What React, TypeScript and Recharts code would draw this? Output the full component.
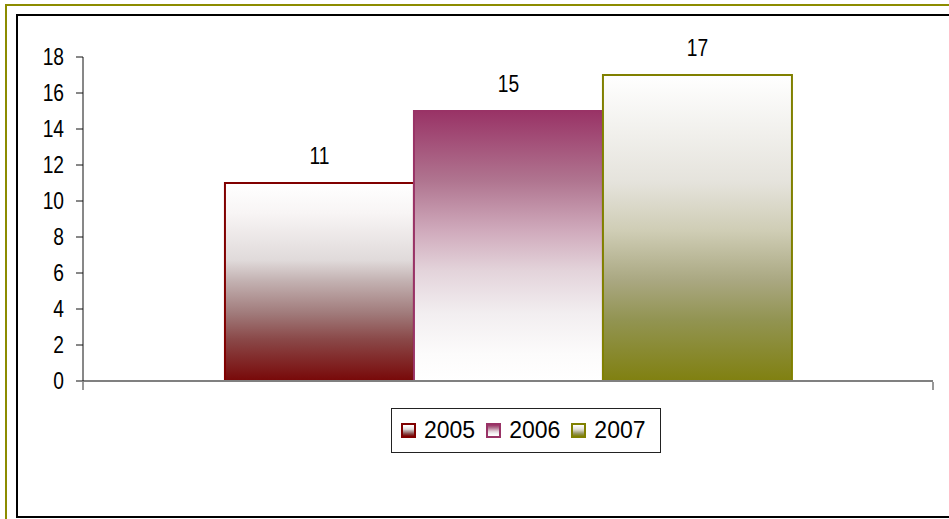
import { Bar, BarChart, LabelList, XAxis, YAxis } from 'recharts';

const YEARS = ['2005', '2006', '2007'];
const VALUES = [11, 15, 17];
const COLORS = ['#800000', '#993366', '#808000'];
const Y_TICKS = [0, 2, 4, 6, 8, 10, 12, 14, 16, 18];

// gradient stops, top (0) to bottom (1)
const STOPS: [number, string][][] = [
  [[0, '#ffffff'], [0.15, '#f8f5f5'], [0.39, '#e0dada'], [0.49, '#c4b3b3'], [0.66, '#a07a7a'], [0.79, '#8a4848'], [1, '#780808']],
  [[0, '#993366'], [0.26, '#b07590'], [0.44, '#cfa9bb'], [0.59, '#e3d3da'], [0.75, '#f2eef0'], [0.9, '#fcfbfb'], [1, '#ffffff']],
  [[0, '#ffffff'], [0.35, '#e5e3dc'], [0.51, '#cfcdb5'], [0.67, '#aaa882'], [0.8, '#929452'], [1, '#808010']]
];

const DATA = [
  YEARS.reduce((row: Record<string, number | string>, y, i) => {
    row[y] = VALUES[i];
    return row;
  }, { name: '', edge: 0 })
];

const FONT = "'Liberation Sans', Arial, sans-serif";

// narrow digits, like Arial Narrow
function NarrowText({ x, y, anchor, children }: { x: number; y: number; anchor: 'end' | 'middle'; children: any }) {
  return (
    <g transform={`translate(${x},${y}) scale(0.8,1)`}>
      <text x={0} y={0} textAnchor={anchor} fill="#000" fontSize={24} fontFamily={FONT}>{children}</text>
    </g>
  );
}

const YTick = (props: any) => {
  const { x, y, payload } = props;
  return <NarrowText x={x} y={y + 8} anchor="end">{payload.value}</NarrowText>;
};

const BarLabel = (props: any) => {
  const { x, y, width, value } = props;
  return <NarrowText x={x + width / 2} y={y - 19} anchor="middle">{value}</NarrowText>;
};

const EmptyTick = () => <g />;

export default function App() {
  return (
    <div style={{ position: 'fixed', left: 0, top: 0, width: 949, height: 519, background: '#fff', overflow: 'hidden' }}>
      <div style={{ position: 'absolute', left: 5, top: 4, width: 1000, height: 600, border: '2px solid #8c8c00' }} />
      <div style={{ position: 'absolute', left: 16, top: 14, width: 1000, height: 500, border: '2px solid #000' }} />
      <div style={{ position: 'absolute', left: 0, top: 0 }}>
        <BarChart width={949} height={519} data={DATA} margin={{ top: 57, right: 16, bottom: 128, left: 0 }}
          barCategoryGap="16.7%" barGap={0}>
          <defs>
            {YEARS.map((y, i) => (
              <linearGradient key={y} id={`g${y}`} x1="0" y1="0" x2="0" y2="1">
                {STOPS[i].map(([o, c]) => <stop key={o} offset={o} stopColor={c} />)}
              </linearGradient>
            ))}
          </defs>
          <XAxis dataKey="name" tick={false} tickLine={false} height={1}
            axisLine={{ stroke: '#808080', strokeWidth: 2 }} />
          <XAxis xAxisId="edge" dataKey="edge" type="number" domain={[0, 1]} ticks={[0, 1]} interval={0}
            tick={<EmptyTick />} height={9} axisLine={false} tickSize={8} tickLine={{ stroke: '#333' }} />
          <YAxis width={83} domain={[0, 18]} ticks={Y_TICKS} interval={0} tickSize={7} tickMargin={12}
            axisLine={{ stroke: '#111' }} tickLine={{ stroke: '#111' }} tick={<YTick />} />
          {YEARS.map((y, i) => (
            <Bar key={y} dataKey={y} fill={`url(#g${y})`} stroke={COLORS[i]} strokeWidth={2}
              isAnimationActive={false}>
              <LabelList dataKey={y} content={<BarLabel />} />
            </Bar>
          ))}
        </BarChart>
      </div>
      <div style={{ position: 'absolute', left: 391, top: 408, width: 268, height: 43, border: '1px solid #222',
        display: 'flex', alignItems: 'center', fontFamily: FONT, fontSize: 23, color: '#000' }}>
        {YEARS.map((y, i) => (
          <div key={y} style={{ display: 'flex', alignItems: 'center', marginLeft: i === 0 ? 9 : 11 }}>
            <span style={{ display: 'inline-block', width: 11, height: 11, border: `2px solid ${COLORS[i]}`,
              background: `linear-gradient(${STOPS[i].map(([o, c]) => `${c} ${o * 100}%`).join(', ')})`,
              marginRight: 8 }} />
            <span>{y}</span>
          </div>
        ))}
      </div>
    </div>
  );
}
